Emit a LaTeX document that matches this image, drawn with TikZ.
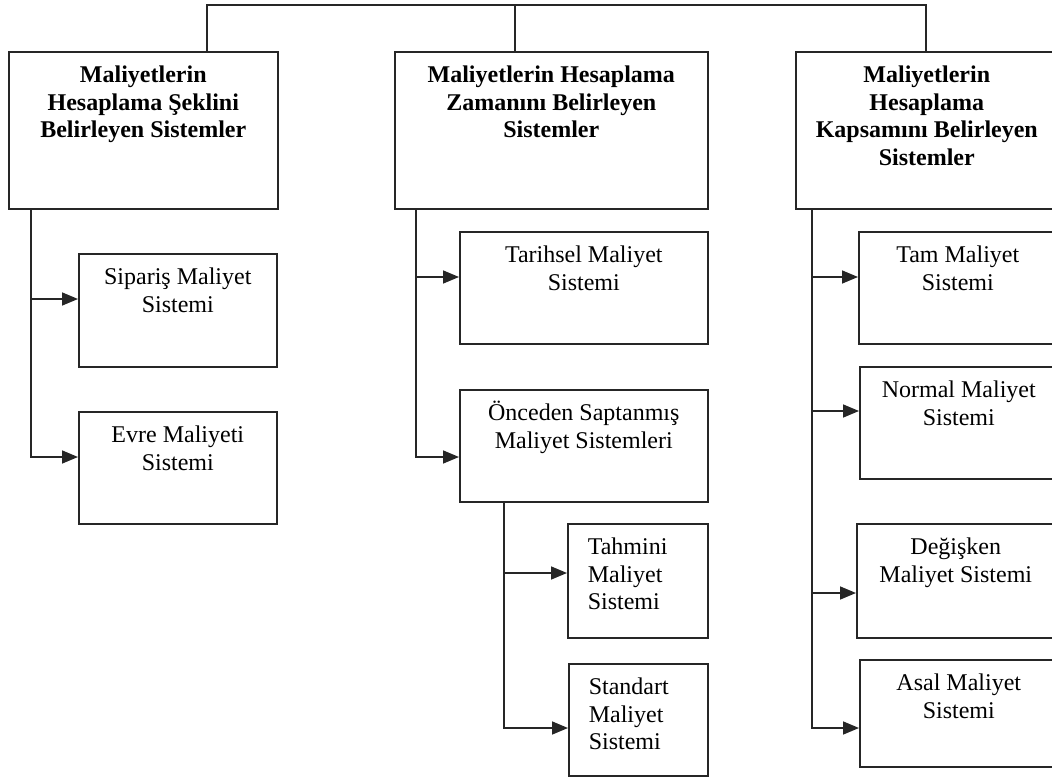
\documentclass[tikz,border=0pt]{standalone}
\usepackage{fontspec}
\setmainfont{Liberation Serif}
\usetikzlibrary{arrows.meta}
\newcommand\bxc[3]{\parbox[c][#2][t]{#1}{\centering\rule{0pt}{31pt}#3}}
\newcommand\bxl[3]{\parbox[c][#2][t]{#1}{\raggedright\leftskip=20pt\rule{0pt}{31pt}#3}}
\tikzset{
  box/.style={draw=black!85, line width=1.6pt, inner sep=0pt, anchor=north west,
    font=\fontsize{24}{27.5}\selectfont},
  hbox/.style={box, font=\fontsize{24}{27.5}\selectfont\bfseries},
  link/.style={draw=black!85, line width=1.6pt},
  arr/.style={link, -{Triangle[length=16pt,width=13pt]}}
}
\begin{document}
\begin{tikzpicture}[x=1pt,y=-1pt]
\useasboundingbox (0,0) rectangle (1052,778);
\fill[white] (0,0) rectangle (1052,778);
\clip (0,0) rectangle (1052,778);
% headers
\node[hbox] (H1) at (8,51) {\bxc{269pt}{157pt}{Maliyetlerin\\Hesaplama Şeklini\\Belirleyen Sistemler}};
\node[hbox] (H2) at (394,51) {\bxc{313pt}{157pt}{Maliyetlerin Hesaplama\\Zamanını Belirleyen\\Sistemler}};
\node[hbox] (H3) at (795,51) {\bxc{262pt}{157pt}{Maliyetlerin\\Hesaplama\\Kapsamını Belirleyen\\Sistemler}};
% left column
\node[box] (S1) at (78,253) {\bxc{198pt}{113pt}{Sipariş Maliyet\\Sistemi}};
\node[box] (S2) at (78,411) {\bxc{198pt}{112pt}{Evre Maliyeti\\Sistemi}};
% middle column
\node[box] (T1) at (459,231) {\bxc{248pt}{112pt}{Tarihsel Maliyet\\Sistemi}};
\node[box] (T2) at (459,389) {\bxc{248pt}{112pt}{Önceden Saptanmış\\Maliyet Sistemleri}};
\node[box] (T3) at (567,523) {\bxl{140pt}{114pt}{Tahmini\\Maliyet\\Sistemi}};
\node[box] (T4) at (568,663) {\bxl{139pt}{112pt}{Standart\\Maliyet\\Sistemi}};
% right column
\node[box] (R1) at (858,231) {\bxc{198pt}{112pt}{Tam Maliyet\\Sistemi}};
\node[box] (R2) at (859,366) {\bxc{198pt}{112pt}{Normal Maliyet\\Sistemi}};
\node[box] (R3) at (856,523) {\bxc{198pt}{114pt}{Değişken\\Maliyet Sistemi}};
\node[box] (R4) at (859,659) {\bxc{198pt}{107pt}{Asal Maliyet\\Sistemi}};
% top bus
\coordinate (b1) at (207,5);
\coordinate (b2) at (515,5);
\coordinate (b3) at (926,5);
\draw[link] (H1.north -| b1) -- (b1) -- (b3) -- (H3.north -| b3);
\draw[link] (b2) -- (H2.north -| b2);
% left branches
\coordinate (a1) at (31,299);
\coordinate (a2) at (31,457);
\draw[arr] (H1.south -| a2) -- (a2) -- (a2 -| S2.west);
\draw[arr] (a1) -- (a1 -| S1.west);
% middle branches
\coordinate (m1) at (416,277);
\coordinate (m2) at (416,457);
\draw[arr] (H2.south -| m2) -- (m2) -- (m2 -| T2.west);
\draw[arr] (m1) -- (m1 -| T1.west);
\coordinate (n1) at (504,573);
\coordinate (n2) at (504,728);
\draw[arr] (T2.south -| n2) -- (n2) -- (n2 -| T4.west);
\draw[arr] (n1) -- (n1 -| T3.west);
% right branches
\coordinate (r1) at (812,277);
\coordinate (r2) at (812,411);
\coordinate (r3) at (812,593);
\coordinate (r4) at (812,728);
\draw[arr] (H3.south -| r4) -- (r4) -- (r4 -| R4.west);
\draw[arr] (r1) -- (r1 -| R1.west);
\draw[arr] (r2) -- (r2 -| R2.west);
\draw[arr] (r3) -- (r3 -| R3.west);
\end{tikzpicture}
\end{document}
